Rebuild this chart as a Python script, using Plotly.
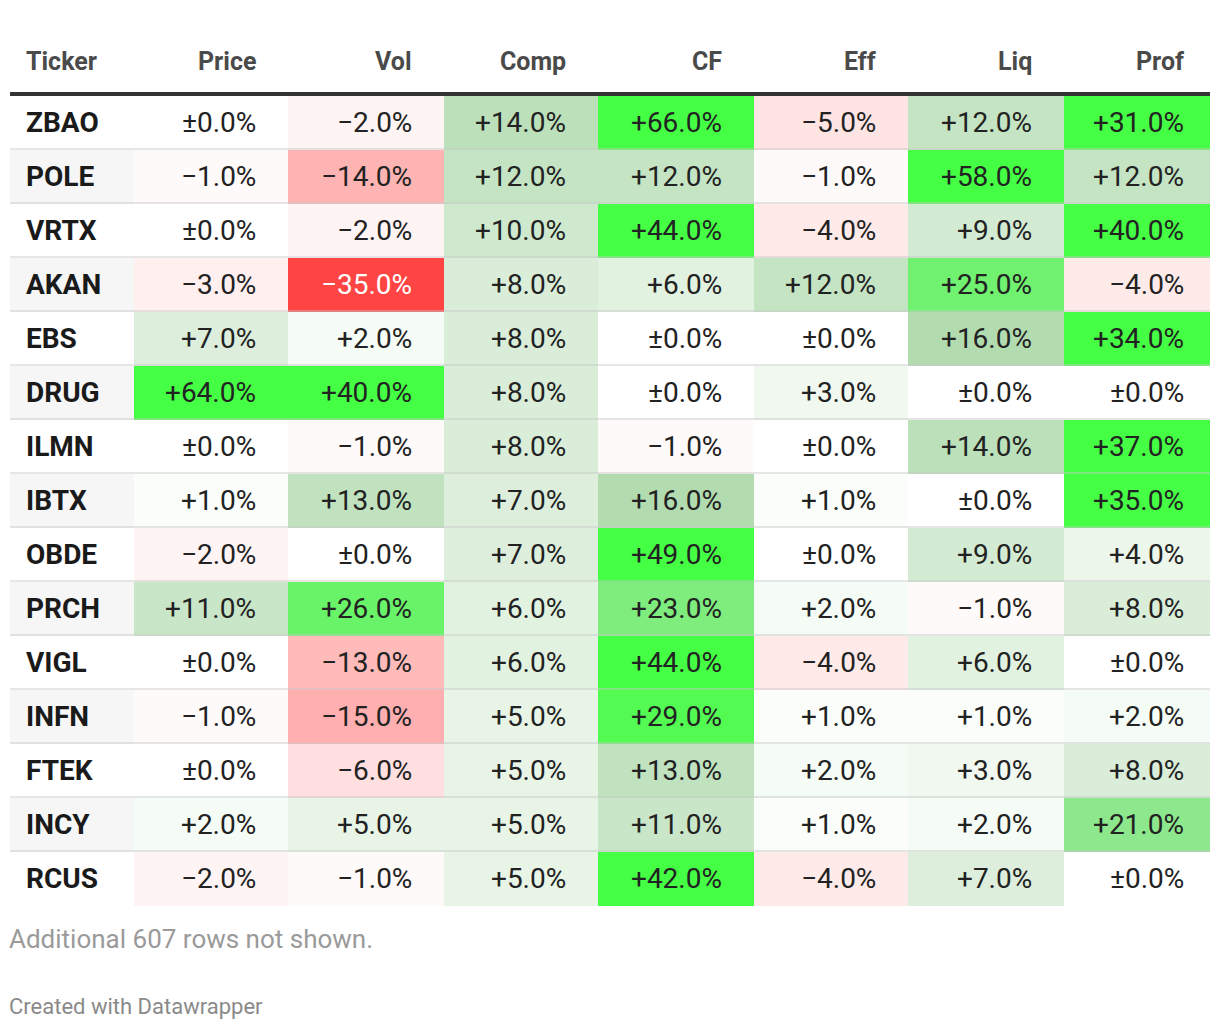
import plotly.graph_objects as go

# ---------------- data ----------------
tickers = ["ZBAO", "POLE", "VRTX", "AKAN", "EBS", "DRUG", "ILMN", "IBTX",
           "OBDE", "PRCH", "VIGL", "INFN", "FTEK", "INCY", "RCUS"]
columns = ["Price", "Vol", "Comp", "CF", "Eff", "Liq", "Prof"]
price = [0, -1, 0, -3, 7, 64, 0, 1, -2, 11, 0, -1, 0, 2, -2]
vol = [-2, -14, -2, -35, 2, 40, -1, 13, 0, 26, -13, -15, -6, 5, -1]
comp = [14, 12, 10, 8, 8, 8, 8, 7, 7, 6, 6, 5, 5, 5, 5]
cf = [66, 12, 44, 6, 0, 0, -1, 16, 49, 23, 44, 29, 13, 11, 42]
eff = [-5, -1, -4, 12, 0, 3, 0, 1, 0, 2, -4, 1, 2, 1, -4]
liq = [12, 58, 9, 25, 16, 0, 14, 0, 9, -1, 6, 1, 3, 2, 7]
prof = [31, 12, 40, -4, 34, 0, 37, 35, 4, 8, 0, 2, 8, 21, 0]
footnote = "Additional 607 rows not shown."
credit = "Created with Datawrapper"

series = [price, vol, comp, cf, eff, liq, prof]

# ---------------- layout constants ----------------
PAGE_W, PAGE_H = 1220, 1030
BODY_MARGIN = 8  # default browser body margin around the plot div
table_left, table_right = 10, 1210
col_edges = [134, 288, 444, 598, 754, 908, 1064, 1210]
row_top = 96
row_h = 54
header_y = 61
FONT = "Roboto"
LEFT_TEXT_X = 24          # annotation box adds ~3px padding
PAD_FIX = 2               # right-anchored annotation padding

n = len(tickers)
row_edges = [row_top + row_h * i for i in range(n + 1)]
row_centers = [row_top + row_h * i + (row_h - 2) / 2 for i in range(n)]
text_right = [e - 32 + PAD_FIX for e in col_edges[1:-1]] + [col_edges[-1] - 26 + PAD_FIX]

z = [[series[c][r] for c in range(len(columns))] for r in range(n)]

colorscale = [
    [0.0, "#ff4444"],
    [35 / 66, "#ffffff"],
    [51 / 66, "#b2dbb0"],
    [1.0, "#44ff44"],
]

fig = go.Figure()

# ticker column stripes
fig.add_trace(go.Heatmap(
    x=[table_left, col_edges[0]],
    y=row_edges,
    z=[[i % 2] for i in range(n)],
    colorscale=[[0, "#ffffff"], [1, "#f6f6f6"]],
    zmin=0, zmax=1,
    showscale=False, hoverinfo="skip",
))

# value cells
fig.add_trace(go.Heatmap(
    x=col_edges,
    y=row_edges,
    z=z,
    colorscale=colorscale,
    zmin=-35, zmax=31,
    showscale=False,
    hovertemplate="%{z}<extra></extra>",
))


def fmt(v):
    if v == 0:
        return "\u00b10.0%"
    if v > 0:
        return f"+{v:.1f}%"
    return f"\u2212{abs(v):.1f}%"


annotations = []
annotations.append(dict(x=LEFT_TEXT_X, y=header_y, xref="x", yref="y", text="<b>Ticker</b>",
                        showarrow=False, xanchor="left", yanchor="middle",
                        font=dict(family=FONT, size=25, color="#4a4a4a")))
for c, name in enumerate(columns):
    annotations.append(dict(x=text_right[c], y=header_y, xref="x", yref="y",
                            text=f"<b>{name}</b>", showarrow=False,
                            xanchor="right", yanchor="middle",
                            font=dict(family=FONT, size=25, color="#4a4a4a")))

for r, t in enumerate(tickers):
    annotations.append(dict(x=LEFT_TEXT_X, y=row_centers[r], xref="x", yref="y",
                            text=f"<b>{t}</b>", showarrow=False,
                            xanchor="left", yanchor="middle",
                            font=dict(family=FONT, size=28, color="#1a1a1a")))
    for c in range(len(columns)):
        v = series[c][r]
        annotations.append(dict(x=text_right[c], y=row_centers[r], xref="x", yref="y",
                                text=fmt(v), showarrow=False,
                                xanchor="right", yanchor="middle",
                                font=dict(family=FONT, size=28,
                                          color="#ffffff" if v <= -25 else "#222222")))

annotations.append(dict(x=table_left, xshift=-3, y=939, xref="x", yref="y", text=footnote,
                        showarrow=False, xanchor="left", yanchor="middle",
                        font=dict(family=FONT, size=26, color="#9a9a9a")))
annotations.append(dict(x=table_left, xshift=-3, y=1006, xref="x", yref="y", text=credit,
                        showarrow=False, xanchor="left", yanchor="middle",
                        font=dict(family=FONT, size=22, color="#8a8a8a")))

shapes = []
shapes.append(dict(type="rect", xref="x", yref="y", x0=table_left, x1=table_right,
                   y0=92, y1=96, fillcolor="#333333", line=dict(width=0), layer="above"))
for i in range(1, n):
    y = row_edges[i]
    shapes.append(dict(type="rect", xref="x", yref="y", x0=table_left, x1=table_right,
                       y0=y - 2, y1=y, fillcolor="rgba(200,200,200,0.45)",
                       line=dict(width=0), layer="above"))

fig.update_layout(
    width=PAGE_W - BODY_MARGIN, height=PAGE_H - BODY_MARGIN,
    margin=dict(l=0, r=0, t=0, b=0),
    paper_bgcolor="#ffffff", plot_bgcolor="#ffffff",
    xaxis=dict(range=[BODY_MARGIN, PAGE_W], visible=False, fixedrange=True),
    yaxis=dict(range=[PAGE_H, BODY_MARGIN], visible=False, fixedrange=True),
    annotations=annotations,
    shapes=shapes,
    showlegend=False,
)

fig.write_html("out.html")
